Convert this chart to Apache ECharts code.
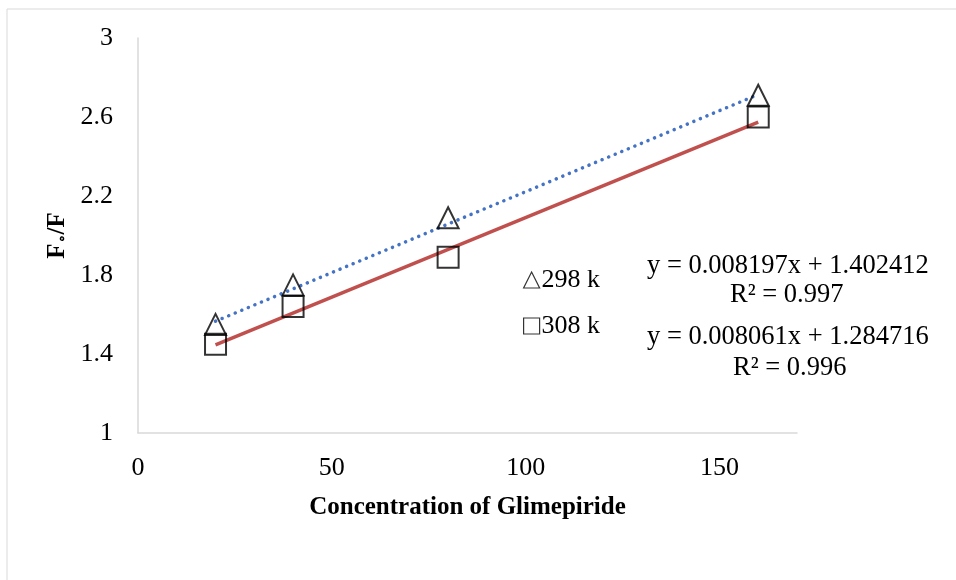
<!DOCTYPE html>
<html>
<head>
<meta charset="utf-8">
<script src="https://cdn.jsdelivr.net/npm/echarts@6/dist/echarts.min.js"></script>
<style>
  html, body { margin: 0; padding: 0; background: #fff; }
  #main { width: 956px; height: 580px; }
</style>
</head>
<body>
<div id="main"></div>
<script>
// values
var concentration = [20, 40, 80, 160];
var ratio298 = [1.55, 1.75, 2.09, 2.71];
var ratio308 = [1.45, 1.64, 1.89, 2.60];

// trendline ends, from the equations printed on the chart
var trend298 = [[20, 1.566], [160, 2.714]];
var trend308 = [[20, 1.446], [160, 2.574]];

var xTicks = [0, 50, 100, 150];
var yTicks = [1, 1.4, 1.8, 2.2, 2.6, 3];

var seriesNames = ['298 k', '308 k'];
var eqText = [
    ['y = 0.008197x + 1.402412', 'R² = 0.997'],
    ['y = 0.008061x + 1.284716', 'R² = 0.996']
];

var serif = '"Liberation Serif", "Times New Roman", serif';

function pairs(xs, ys) {
    return xs.map(function (x, i) { return [x, ys[i]]; });
}

var markerStyle = {
    color: 'rgba(0,0,0,0)',
    borderColor: '#000',
    borderWidth: 2
};

var eqFont = '26.5px ' + serif;

var option = {
    backgroundColor: '#fff',
    animation: false,
    grid: { left: 138, top: 38, width: 659, height: 395, containLabel: false },
    legend: {
        orient: 'vertical',
        left: 518,
        top: 262,
        itemWidth: 16,
        itemHeight: 16,
        itemGap: 20,
        data: seriesNames,
        itemStyle: { borderWidth: 1.2 },
        textStyle: { fontFamily: serif, fontSize: 26, color: '#000', padding: [0, 0, 0, -3] }
    },
    xAxis: {
        type: 'value',
        min: xTicks[0],
        max: 170,
        interval: xTicks[1] - xTicks[0],
        name: 'Concentration of Glimepiride',
        nameLocation: 'middle',
        nameGap: 62,
        nameTextStyle: { fontFamily: serif, fontSize: 25, fontWeight: 'bold', color: '#000' },
        axisLine: { show: true, lineStyle: { color: '#d9d9d9', width: 1.5 } },
        axisTick: { show: false },
        splitLine: { show: false },
        axisLabel: {
            margin: 22,
            fontFamily: serif,
            fontSize: 26,
            color: '#000',
            formatter: function (v) { return xTicks.indexOf(v) >= 0 ? String(v) : ''; }
        }
    },
    yAxis: {
        type: 'value',
        min: yTicks[0],
        max: yTicks[yTicks.length - 1],
        interval: 0.4,
        name: 'F{s|∘}/F',
        nameLocation: 'middle',
        nameGap: 67,
        nameTextStyle: {
            fontFamily: serif, fontSize: 25, fontWeight: 'bold', color: '#000',
            rich: { s: { fontFamily: serif, fontSize: 14, fontWeight: 'bold', color: '#000', verticalAlign: 'bottom' } }
        },
        axisLine: { show: true, lineStyle: { color: '#d9d9d9', width: 1.5 } },
        axisTick: { show: false },
        splitLine: { show: false },
        axisLabel: {
            margin: 25,
            fontFamily: serif,
            fontSize: 26,
            color: '#000',
            formatter: function (v) {
                var t = yTicks.filter(function (k) { return Math.abs(k - v) < 1e-6; });
                return t.length ? String(t[0]) : '';
            }
        }
    },
    series: [
        {
            name: 'trend 298',
            type: 'line',
            data: trend298,
            symbol: 'none',
            silent: true,
            lineStyle: { color: '#4472C4', width: 3.5, type: [0.1, 7], cap: 'round' },
            z: 2
        },
        {
            name: 'trend 308',
            type: 'line',
            data: trend308,
            symbol: 'none',
            silent: true,
            lineStyle: { color: '#C0504D', width: 3.5 },
            z: 2
        },
        {
            name: seriesNames[0],
            type: 'scatter',
            data: pairs(concentration, ratio298),
            symbol: 'triangle',
            symbolSize: 21,
            itemStyle: markerStyle,
            z: 3
        },
        {
            name: seriesNames[1],
            type: 'scatter',
            data: pairs(concentration, ratio308),
            symbol: 'rect',
            symbolSize: 21,
            itemStyle: markerStyle,
            z: 3
        }
    ],
    graphic: [
        {
            type: 'rect',
            shape: { x: 7, y: 9, width: 1000, height: 620 },
            style: { fill: 'none', stroke: '#d9d9d9', lineWidth: 1 },
            silent: true
        },
        {
            type: 'text', left: 647, top: 253,
            style: { text: eqText[0][0], font: eqFont, fill: '#000' }
        },
        {
            type: 'text', left: 730, top: 282,
            style: { text: eqText[0][1], font: eqFont, fill: '#000' }
        },
        {
            type: 'text', left: 647, top: 324,
            style: { text: eqText[1][0], font: eqFont, fill: '#000' }
        },
        {
            type: 'text', left: 733, top: 355,
            style: { text: eqText[1][1], font: eqFont, fill: '#000' }
        }
    ]
};

var chart = echarts.init(document.getElementById('main'));
chart.setOption(option);
</script>
</body>
</html>
